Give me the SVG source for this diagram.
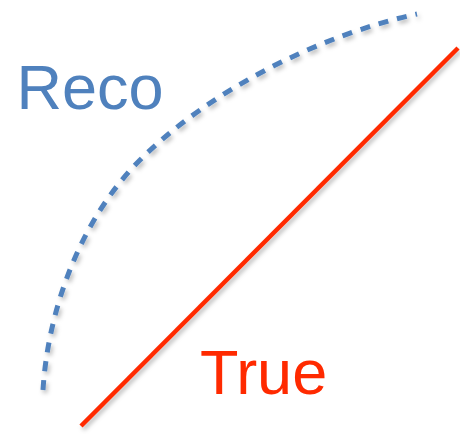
<svg xmlns="http://www.w3.org/2000/svg" width="460" height="436" viewBox="0 0 460 436">
<defs>
<filter id="sh" x="-10%" y="-10%" width="120%" height="120%">
<feDropShadow dx="2" dy="3" stdDeviation="2" flood-color="#000" flood-opacity="0.25"/>
</filter>
<style>
.lbl{font-family:"Liberation Sans",Arial,sans-serif}
</style>
</defs>
<rect width="460" height="436" fill="#fff"/>
<g id="connectors">
<path id="reco-curve" d="M43,390 C48,310 80,220 140,160 C210,90 320,35 417,14" fill="none" stroke="#4F81BD" stroke-width="5" stroke-dasharray="10 9" filter="url(#sh)"/>
<line id="true-line" x1="81" y1="426" x2="458" y2="48" stroke="#FF2A00" stroke-width="4.5" filter="url(#sh)"/>
</g>
<g id="reco-label"><text class="lbl" x="16.5" y="109" font-size="63" fill="#4F81BD">Reco</text></g>
<g id="true-label"><text class="lbl" x="200" y="394" font-size="63" fill="#FF2A00">True</text></g>
</svg>
